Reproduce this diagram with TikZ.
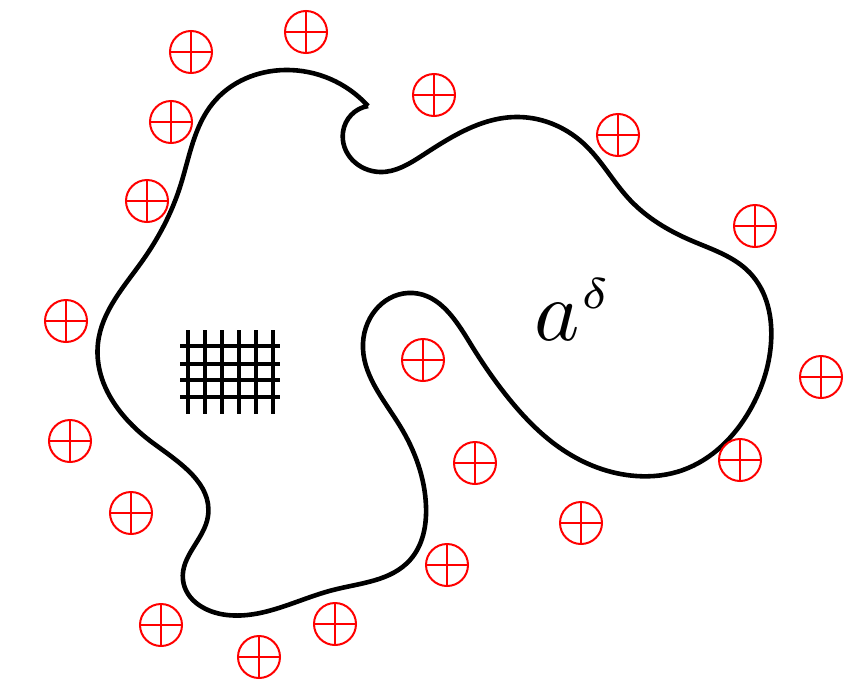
\documentclass[tikz,border=0pt]{standalone}
\usetikzlibrary{hobby}
\begin{document}
\begin{tikzpicture}[x=0.5pt,y=-0.5pt,
  plus/.style={circle, draw=red, line width=1pt, minimum size=21pt, inner sep=0pt,
    path picture={\draw[red, line width=1pt]
      (path picture bounding box.north) -- (path picture bounding box.south)
      (path picture bounding box.west) -- (path picture bounding box.east);}},
  blob/.style={line width=2.3pt, line join=round},
  gridline/.style={line width=2pt}]
\useasboundingbox (0,0) rectangle (846,686);
% boundary curve
\draw[blob, use Hobby shortcut] (368,106) .. (343,132) .. (380,172) .. (423,155)
 .. (516,117) .. (583,143) .. (630,200) .. (690,240) .. (750,273) .. (771,343)
 .. (750,410) .. (683,470) .. (636,476) .. (563,450) .. (510,400) .. (470,343)
 .. (413,293) .. (363,343) .. (400,426) .. (426,506) .. (410,560) .. (333,590)
 .. (227,615) .. (183,580) .. (208,516) .. (153,443) .. (98,343) .. (143,260)
 .. (180,187) .. (213,103) .. (285,70) .. (368,106);
% grid
\foreach \x in {188,205,222,239,256,273} \draw[gridline] (\x,330) -- (\x,414);
\foreach \y in {346,364,380,397} \draw[gridline] (180,\y) -- (280,\y);
% label
\node[anchor=base west, inner sep=0pt, scale=4.3] (lbl) at (533,340) {$a^{\scriptscriptstyle\delta}$};
% charges
\node[plus] (p1) at (191,52) {};
\node[plus] (p2) at (306,32) {};
\node[plus] (p3) at (434,95) {};
\node[plus] (p4) at (618,135) {};
\node[plus] (p5) at (755,226) {};
\node[plus] (p6) at (821,377) {};
\node[plus] (p7) at (740,460) {};
\node[plus] (p8) at (581,523) {};
\node[plus] (p9) at (475,463) {};
\node[plus] (p10) at (423,360) {};
\node[plus] (p11) at (447,565) {};
\node[plus] (p12) at (335,624) {};
\node[plus] (p13) at (259,657) {};
\node[plus] (p14) at (161,625) {};
\node[plus] (p15) at (131,513) {};
\node[plus] (p16) at (70,441) {};
\node[plus] (p17) at (66,321) {};
\node[plus] (p18) at (147,201) {};
\node[plus] (p19) at (171,122) {};
\end{tikzpicture}
\end{document}
